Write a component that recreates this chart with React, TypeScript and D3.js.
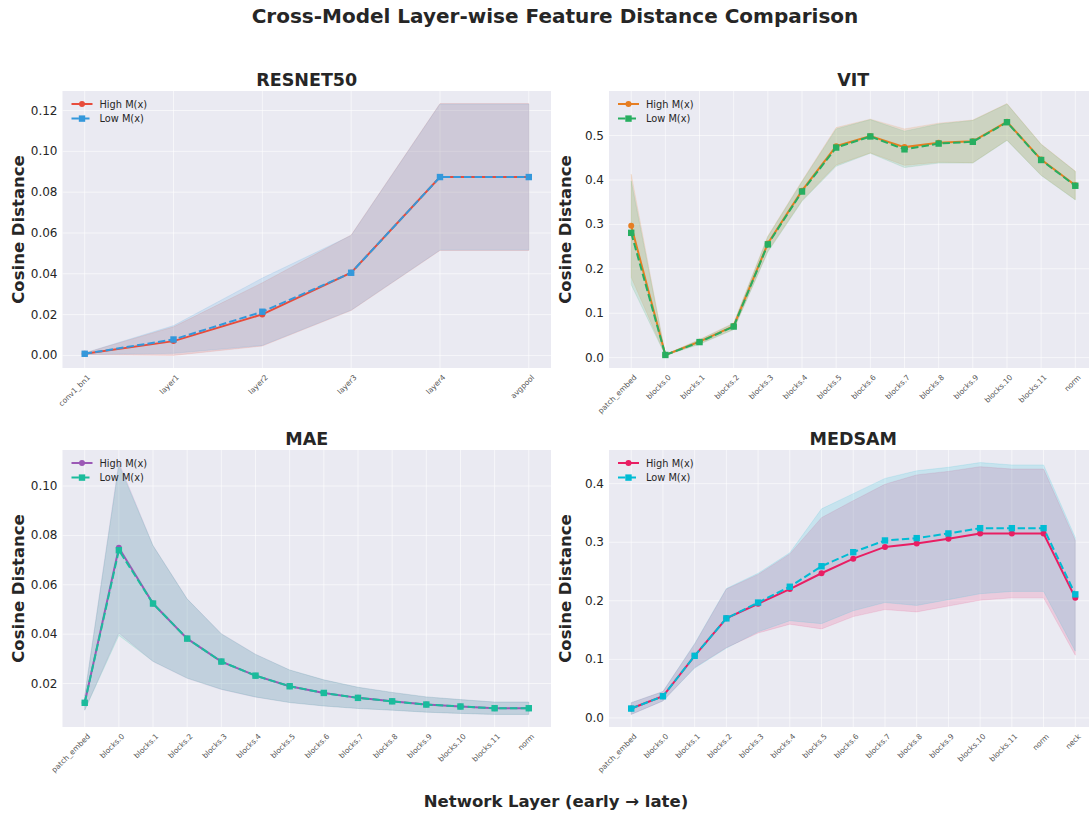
import React from "react";
import * as d3 from "d3";

const FONT = "'DejaVu Sans', sans-serif";
const TEXT = "#262626";

// layer names per model
const resnetLayers = ["conv1_bn1", "layer1", "layer2", "layer3", "layer4", "avgpool"];
const vitLayers = ["patch_embed", "blocks.0", "blocks.1", "blocks.2", "blocks.3", "blocks.4", "blocks.5", "blocks.6", "blocks.7", "blocks.8", "blocks.9", "blocks.10", "blocks.11", "norm"];
const maeLayers = vitLayers;
const medsamLayers = [...vitLayers, "neck"];

// RESNET50
const resnetHighMean = [0.0008, 0.007, 0.0201, 0.0405, 0.0874, 0.0874];
const resnetHighStd = [0.0004, 0.007, 0.0155, 0.0185, 0.036, 0.036];
const resnetLowMean = [0.0008, 0.0078, 0.0214, 0.0405, 0.0874, 0.0874];
const resnetLowStd = [0.0004, 0.0068, 0.0165, 0.0183, 0.0358, 0.0358];

// VIT
const vitHighMean = [0.297, 0.006, 0.036, 0.071, 0.257, 0.376, 0.476, 0.499, 0.474, 0.484, 0.487, 0.531, 0.446, 0.388];
const vitHighStd = [0.116, 0.001, 0.005, 0.007, 0.017, 0.022, 0.042, 0.038, 0.041, 0.044, 0.048, 0.041, 0.035, 0.032];
const vitLowMean = [0.281, 0.006, 0.035, 0.07, 0.255, 0.374, 0.473, 0.498, 0.469, 0.482, 0.486, 0.53, 0.445, 0.387];
const vitLowStd = [0.117, 0.001, 0.005, 0.007, 0.017, 0.022, 0.042, 0.038, 0.041, 0.044, 0.048, 0.041, 0.035, 0.032];

// MAE
const maeHighMean = [0.0122, 0.075, 0.0524, 0.0382, 0.0289, 0.0232, 0.0189, 0.0162, 0.0142, 0.0128, 0.0115, 0.0107, 0.01, 0.01];
const maeHighStd = [0.003, 0.0345, 0.0235, 0.0161, 0.0113, 0.0087, 0.0066, 0.0053, 0.0043, 0.0036, 0.0031, 0.0028, 0.0025, 0.0025];
const maeLowMean = [0.0122, 0.074, 0.0524, 0.0382, 0.0289, 0.0232, 0.0189, 0.0162, 0.0142, 0.0128, 0.0115, 0.0107, 0.01, 0.01];
const maeLowStd = [0.003, 0.0345, 0.0234, 0.016, 0.0112, 0.0086, 0.0066, 0.0053, 0.0043, 0.0036, 0.0031, 0.0028, 0.0025, 0.0025];

// MEDSAM
const medHighMean = [0.016, 0.037, 0.106, 0.17, 0.195, 0.22, 0.247, 0.272, 0.292, 0.298, 0.306, 0.315, 0.315, 0.315, 0.205];
const medHighStd = [0.01, 0.008, 0.02, 0.05, 0.05, 0.06, 0.095, 0.099, 0.107, 0.117, 0.115, 0.114, 0.11, 0.11, 0.098];
const medLowMean = [0.016, 0.037, 0.106, 0.17, 0.197, 0.224, 0.259, 0.283, 0.303, 0.307, 0.315, 0.324, 0.324, 0.324, 0.211];
const medLowStd = [0.01, 0.008, 0.021, 0.051, 0.05, 0.058, 0.098, 0.1, 0.106, 0.115, 0.113, 0.112, 0.108, 0.108, 0.097];

const resnetTicks = [0, 0.02, 0.04, 0.06, 0.08, 0.1, 0.12];
const vitTicks = [0, 0.1, 0.2, 0.3, 0.4, 0.5];
const maeTicks = [0.02, 0.04, 0.06, 0.08, 0.1];
const medsamTicks = [0, 0.1, 0.2, 0.3, 0.4];

type Series = { label: string; mean: number[]; std: number[]; color: string; dashed: boolean };

type PanelProps = {
  title: string;
  layers: string[];
  high: Series;
  low: Series;
  ticks: number[];
  digits: number;
  left: number;
  top: number;
  width: number;
  height: number;
  id: string;
};

function Marker({ cx, cy, color, square }: { cx: number; cy: number; color: string; square: boolean }) {
  return square ? (
    <rect x={cx - 3.2} y={cy - 3.2} width={6.4} height={6.4} fill={color} />
  ) : (
    <circle cx={cx} cy={cy} r={3} fill={color} />
  );
}

function Panel({ title, layers, high, low, ticks, digits, left, top, width, height, id }: PanelProps) {
  const n = layers.length;
  // matplotlib-like 5% margins
  const x = d3.scaleLinear().domain([-0.05 * (n - 1), 1.05 * (n - 1)]).range([0, width]);
  const all = [high, low];
  const lo = d3.min(all.flatMap(s => s.mean.map((m, i) => m - s.std[i]))) as number;
  const hi = d3.max(all.flatMap(s => s.mean.map((m, i) => m + s.std[i]))) as number;
  const pad = (hi - lo) * 0.05;
  const y = d3.scaleLinear().domain([lo - pad, hi + pad]).range([height, 0]);

  const band = d3.area<number>().x((_, i) => x(i));
  const line = d3.line<number>().x((_, i) => x(i)).y(d => y(d));

  const bandPath = (s: Series) =>
    band.y0((m, i) => y(m - s.std[i])).y1((m, i) => y(m + s.std[i]))(s.mean) || "";

  return (
    <g transform={`translate(${left},${top})`}>
      <defs>
        <clipPath id={id}>
          <rect x={0} y={0} width={width} height={height} />
        </clipPath>
      </defs>
      <rect x={0} y={0} width={width} height={height} fill="#eaeaf2" />
      {ticks.map(t => (
        <line key={"gy" + t} x1={0} x2={width} y1={y(t)} y2={y(t)} stroke="#fff" strokeWidth={1} opacity={0.6} />
      ))}
      {layers.map((_, i) => (
        <line key={"gx" + i} x1={x(i)} x2={x(i)} y1={0} y2={height} stroke="#fff" strokeWidth={1} opacity={0.6} />
      ))}
      <g clipPath={`url(#${id})`}>
        {all.map(s => (
          <path key={"b" + s.label} d={bandPath(s)} fill={s.color} fillOpacity={0.15} stroke={s.color} strokeOpacity={0.15} strokeWidth={0.8} />
        ))}
        {all.map(s => (
          <g key={"l" + s.label}>
            <path d={line(s.mean) || ""} fill="none" stroke={s.color} strokeWidth={2} strokeDasharray={s.dashed ? "7.4,3.2" : undefined} />
            {s.mean.map((m, i) => (
              <Marker key={i} cx={x(i)} cy={y(m)} color={s.color} square={s.dashed} />
            ))}
          </g>
        ))}
      </g>
      {ticks.map(t => (
        <text key={"ty" + t} x={-5} y={y(t)} textAnchor="end" dominantBaseline="central" fontSize={12} fill={TEXT} fontFamily={FONT}>
          {t.toFixed(digits)}
        </text>
      ))}
      {layers.map((l, i) => (
        <text key={"tx" + l} transform={`translate(${x(i) + 2},${height + 6}) rotate(-45)`} textAnchor="end" dominantBaseline="hanging" fontSize={7.5} fill="#555" fontFamily={FONT}>
          {l}
        </text>
      ))}
      <text x={width / 2} y={-5} textAnchor="middle" fontSize={17.5} fontWeight="bold" fill={TEXT} fontFamily={FONT}>
        {title}
      </text>
      <text transform={`translate(${-38.5},${height / 2}) rotate(-90)`} textAnchor="middle" fontSize={16.5} fontWeight="bold" fill={TEXT} fontFamily={FONT}>
        Cosine Distance
      </text>
      {all.map((s, k) => (
        <g key={"lg" + s.label} transform={`translate(9,${13 + k * 14.6})`}>
          <line x1={0} x2={21} y1={0} y2={0} stroke={s.color} strokeWidth={2} strokeDasharray={s.dashed ? "7.4,3.2" : undefined} />
          <Marker cx={10.5} cy={0} color={s.color} square={s.dashed} />
          <text x={28} y={0} dominantBaseline="central" fontSize={9.8} fill={TEXT} fontFamily={FONT}>
            {s.label}
          </text>
        </g>
      ))}
    </g>
  );
}

const mk = (mean: number[], std: number[], color: string, dashed: boolean): Series => ({
  label: dashed ? "Low M(x)" : "High M(x)",
  mean,
  std,
  color,
  dashed,
});

export default function App() {
  const w = 488.5;
  const h = 277;
  return (
    <svg width={1089} height={815} style={{ position: "fixed", left: 0, top: 0, background: "#fff" }} fontFamily={FONT}>
      <text x={555} y={23} textAnchor="middle" fontSize={20} fontWeight="bold" fill={TEXT}>
        Cross-Model Layer-wise Feature Distance Comparison
      </text>
      <Panel id="c1" title="RESNET50" layers={resnetLayers} ticks={resnetTicks} digits={2}
        high={mk(resnetHighMean, resnetHighStd, "#e74c3c", false)} low={mk(resnetLowMean, resnetLowStd, "#3498db", true)}
        left={62.5} top={91} width={w} height={h} />
      <Panel id="c2" title="VIT" layers={vitLayers} ticks={vitTicks} digits={1}
        high={mk(vitHighMean, vitHighStd, "#e67e22", false)} low={mk(vitLowMean, vitLowStd, "#27ae60", true)}
        left={609} top={91} width={w} height={h} />
      <Panel id="c3" title="MAE" layers={maeLayers} ticks={maeTicks} digits={2}
        high={mk(maeHighMean, maeHighStd, "#9b59b6", false)} low={mk(maeLowMean, maeLowStd, "#1abc9c", true)}
        left={62.5} top={450} width={w} height={h} />
      <Panel id="c4" title="MEDSAM" layers={medsamLayers} ticks={medsamTicks} digits={1}
        high={mk(medHighMean, medHighStd, "#e91e63", false)} low={mk(medLowMean, medLowStd, "#00bcd4", true)}
        left={609} top={450} width={w} height={h} />
      <text x={556} y={807} textAnchor="middle" fontSize={16.5} fontWeight="bold" fill={TEXT}>
        Network Layer (early → late)
      </text>
    </svg>
  );
}
